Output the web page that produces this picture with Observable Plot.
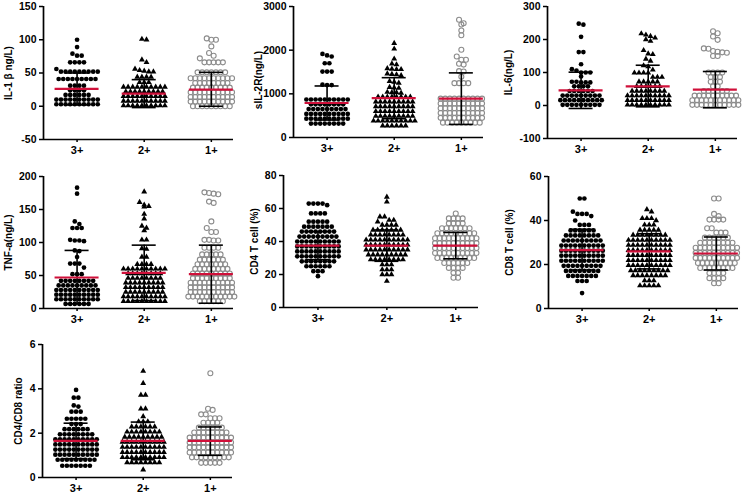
<!DOCTYPE html>
<html><head><meta charset="utf-8">
<script src="https://cdn.jsdelivr.net/npm/d3@7"></script>
<script src="https://cdn.jsdelivr.net/npm/@observablehq/plot@0.6"></script>
<style>
body{margin:0;background:#fff;}
#wrap{position:relative;width:750px;height:495px;overflow:hidden;background:#fff;}
.panel{position:absolute;}
.panel svg{overflow:visible;}
.panel svg text{font-weight:bold;}
</style></head><body><div id="wrap"></div>
<script>
// ---- categories ----
const groups = ["3+", "2+", "1+"];

// ---- IL-1β ----
const il1Ticks = [-50, 0, 50, 100, 150];
const il1_3 = [100,89,79,76,76,66,66,66,66,56,52,52,52,52,52,52,52,52,52,41,41,41,41,41,41,41,41,41,31,31,31,31,24,24,24,24,17,17,17,17,17,17,10,10,10,10,10,10,10,10,10,10,3,3,3,3,3,3,3,3,3,3];
const il1_2 = [101,100,70,66,56,54,53,52,52,44,44,44,44,36,36,36,29,29,29,29,29,29,29,29,29,29,22,22,22,22,22,22,22,22,22,15,15,15,15,15,15,15,15,15,15,8,8,8,8,8,8,8,8,8,8,1,1,1,1,1,1,1,1,1,1];
const il1_1 = [102,100,100,90,80,76,72,66,66,66,66,66,51,51,51,51,51,51,51,42,42,42,42,42,42,42,42,42,42,35,35,35,35,35,35,35,35,28,28,28,28,28,28,28,28,28,21,21,21,21,21,21,21,21,21,21,14,14,14,14,14,14,14,14,14,14,7,7,7,7,7,7,7,7,7,7,0,0,0,0,0,0,0,0,0];
const il1Mean = [26, 19, 25];
const il1Lo = [2, -2, 0];
const il1Hi = [50, 40, 51];

// ---- sIL-2R ----
const silTicks = [0, 1000, 2000, 3000];
const sil_3 = [1915,1880,1855,1700,1700,1510,1510,1510,1210,1200,1200,870,870,870,870,870,870,870,870,870,870,760,760,760,760,760,760,760,760,650,650,650,650,650,650,650,650,650,540,540,540,540,540,540,540,540,540,540,430,430,430,430,430,430,430,430,430,430,320,320,320,320,320,320,320,320];
const sil_2 = [2160,2030,1800,1690,1670,1580,1570,1560,1560,1460,1450,1440,1420,1290,1270,1250,1150,1140,1130,1040,1030,1030,1020,930,930,930,930,930,930,930,930,820,820,820,820,820,820,820,820,820,710,710,710,710,710,710,710,710,710,600,600,600,600,600,600,600,600,600,490,490,490,490,490,490,490,490,490,380,380,380,380,380,380,380,380,380,380,270,270,270,270,270,270];
const sil_1 = [2695,2617,2588,2450,2343,2008,1855,1780,1780,1690,1670,1520,1510,1390,1245,1245,1245,1245,890,890,890,890,890,890,890,890,890,890,780,780,780,780,780,780,780,780,780,780,670,670,670,670,670,670,670,670,670,670,560,560,560,560,560,560,560,560,560,560,450,450,450,450,450,450,450,450,450,450,340,340,340,340,340,340,340,340,340];
const silMean = [790, 900, 890];
const silLo = [400, 430, 300];
const silHi = [1180, 1370, 1480];

// ---- IL-6 ----
const il6Ticks = [-100, 0, 100, 200, 300];
const il6_3 = [248,245,208,162,162,125,110,106,100,100,100,88,72,72,70,70,70,58,58,58,58,44,44,44,44,44,44,30,30,30,30,30,30,30,30,30,16,16,16,16,16,16,16,16,16,16,2,2,2,2,2,2,2,2,2];
const il6_2 = [218,214,210,205,200,195,167,157,155,141,135,121,118,108,99,99,99,99,86,86,86,72,72,72,72,72,58,58,58,58,58,58,44,44,44,44,44,44,44,44,30,30,30,30,30,30,30,30,30,30,16,16,16,16,16,16,16,16,16,16,2,2,2,2,2,2,2,2,2,2];
const il6_1 = [225,219,209,199,173,172,165,163,161,160,150,150,100,100,100,100,86,86,86,72,72,72,58,58,44,44,44,44,44,44,30,30,30,30,30,30,30,30,30,30,16,16,16,16,16,16,16,16,16,16,16,2,2,2,2,2,2,2,2,2,2,2];
const il6Mean = [46, 58, 48];
const il6Lo = [-9, -4, -7];
const il6Hi = [101, 122, 103];

// ---- TNF-a ----
const tnfTicks = [0, 50, 100, 150, 200];
const tnf_3 = [183,174,132,128,122,122,122,104,103,103,102,88,87,78,68,68,68,62,52,52,52,42,42,42,42,42,42,42,42,35,35,35,35,35,35,35,35,35,28,28,28,28,28,28,28,28,28,28,21,21,21,21,21,21,21,21,21,21,14,14,14,14,14,14,14,14,14,14,7,7,7,7,7,7];
const tnf_2 = [177,161,157,155,154,143,136,125,122,118,104,104,91,90,78,78,67,67,67,67,60,60,60,60,60,60,60,60,60,60,53,53,53,53,53,53,53,53,46,46,46,46,46,46,46,46,39,39,39,39,39,39,39,39,39,32,32,32,32,32,32,32,32,32,25,25,25,25,25,25,25,25,25,18,18,18,18,18,18,18,18,18,18,11,11,11,11,11,11,11,11,11,11];
const tnf_1 = [176,175,174,173,162,160,132,122,116,116,104,104,103,103,92,92,92,92,82,82,82,82,82,74,74,74,74,74,74,67,67,67,67,67,67,67,60,60,60,60,60,60,60,60,53,53,53,53,53,53,53,53,53,46,46,46,46,46,46,46,46,46,39,39,39,39,39,39,39,39,39,39,32,32,32,32,32,32,32,32,32,32,25,25,25,25,25,25,25,25,25,25,18,18,18,18,18,18,18,18,18,18,18,11,11,11,11,11,11];
const tnfMean = [47, 54, 52];
const tnfLo = [7, 12, 8];
const tnfHi = [88, 96, 96];

// ---- CD4 T cell ----
const cd4Ticks = [0, 20, 40, 60, 80];
const cd4_3 = [63,63,63,63,62,57,57,57,57,52,52,52,52,52,49,49,49,49,49,49,49,46,46,46,46,46,46,46,46,43,43,43,43,43,43,43,43,43,40,40,40,40,40,40,40,40,40,40,37,37,37,37,37,37,37,37,37,37,34,34,34,34,34,34,34,34,34,34,31,31,31,31,31,31,31,31,31,31,28,28,28,28,28,28,28,28,25,25,25,25,25,25,22,22,22,19];
const cd4_2 = [67,64,55,55,53,53,52,50,50,50,50,47,47,47,47,47,47,47,44,44,44,44,44,44,44,44,41,41,41,41,41,41,41,41,41,41,38,38,38,38,38,38,38,38,38,38,35,35,35,35,35,35,35,35,35,35,32,32,32,32,32,32,32,32,32,29,29,29,29,29,29,29,29,26,26,26,23,23,23,20,20,20,16];
const cd4_1 = [57,54,54,54,54,51,51,51,51,48,48,48,48,48,48,48,45,45,45,45,45,45,45,45,45,42,42,42,42,42,42,42,42,42,42,39,39,39,39,39,39,39,39,39,39,36,36,36,36,36,36,36,36,36,36,33,33,33,33,33,33,33,33,33,33,30,30,30,30,30,30,30,30,30,27,27,27,27,27,27,24,24,24,24,21,21,18,18];
const cd4Mean = [37.5, 37.5, 37.5];
const cd4Lo = [29, 28, 29.5];
const cd4Hi = [46, 47, 45.5];

// ---- CD8 T cell ----
const cd8Ticks = [0, 20, 40, 60];
const cd8_3 = [50,50,44,43,43,43,42,40,38,38,38,35.5,35.5,35.5,35.5,35.5,35.5,33.2,33.2,33.2,33.2,33.2,33.2,33.2,33.2,30.9,30.9,30.9,30.9,30.9,30.9,30.9,30.9,30.9,28.6,28.6,28.6,28.6,28.6,28.6,28.6,28.6,28.6,28.6,26.3,26.3,26.3,26.3,26.3,26.3,26.3,26.3,26.3,26.3,24,24,24,24,24,24,24,24,24,24,21.7,21.7,21.7,21.7,21.7,21.7,21.7,21.7,21.7,21.7,19.4,19.4,19.4,19.4,19.4,19.4,19.4,19.4,19.4,17.1,17.1,17.1,17.1,17.1,17.1,17.1,17.1,14.8,14.8,14.8,14.8,14.8,14.8,14.8,12.5,12.5,12.5,7];
const cd8_2 = [45,44,41,41,41,40,38,38,38,35.7,35.7,35.7,35.7,35.7,33.4,33.4,33.4,33.4,33.4,33.4,33.4,33.4,31.1,31.1,31.1,31.1,31.1,31.1,31.1,31.1,31.1,31.1,28.8,28.8,28.8,28.8,28.8,28.8,28.8,28.8,28.8,28.8,26.5,26.5,26.5,26.5,26.5,26.5,26.5,26.5,26.5,26.5,24.2,24.2,24.2,24.2,24.2,24.2,24.2,24.2,24.2,24.2,21.9,21.9,21.9,21.9,21.9,21.9,21.9,21.9,21.9,21.9,19.6,19.6,19.6,19.6,19.6,19.6,19.6,19.6,19.6,19.6,17.3,17.3,17.3,17.3,17.3,17.3,17.3,17.3,17.3,15,15,15,15,15,15,15,15,12.7,12.7,12.7,10.4,10.4,10.4,10.4,10.4];
const cd8_1 = [50,50,43,42,40.4,40.4,40.4,40.4,36.5,36.5,34.5,34.5,34.5,32.2,32.2,32.2,32.2,32.2,32.2,29.9,29.9,29.9,29.9,29.9,29.9,29.9,29.9,27.6,27.6,27.6,27.6,27.6,27.6,27.6,27.6,27.6,27.6,25.3,25.3,25.3,25.3,25.3,25.3,25.3,25.3,25.3,25.3,23,23,23,23,23,23,23,23,23,23,20.7,20.7,20.7,20.7,20.7,20.7,20.7,20.7,20.7,18.4,18.4,18.4,18.4,18.4,18.4,18.4,18.4,16.1,16.1,16.1,16.1,13.8,13.8,13.8,13.8,11.5,11.5];
const cd8Mean = [26.5, 26, 25];
const cd8Lo = [17.5, 18, 17.5];
const cd8Hi = [36, 34, 32.5];

// ---- CD4/CD8 ratio ----
const ratioTicks = [0, 2, 4, 6];
const ratio_3 = [3.95,3.6,3.6,3.25,3.2,2.97,2.97,2.97,2.65,2.65,2.65,2.65,2.65,2.41,2.41,2.41,2.18,2.18,2.18,2.18,2.18,2.18,1.95,1.95,1.95,1.95,1.95,1.95,1.95,1.95,1.72,1.72,1.72,1.72,1.72,1.72,1.72,1.72,1.72,1.72,1.49,1.49,1.49,1.49,1.49,1.49,1.49,1.49,1.49,1.49,1.26,1.26,1.26,1.26,1.26,1.26,1.26,1.26,1.26,1.26,1.03,1.03,1.03,1.03,1.03,1.03,1.03,1.03,1.03,1.03,0.8,0.8,0.8,0.8,0.8,0.8,0.8,0.8,0.8,0.53,0.53,0.53,0.53,0.53,0.53,0.53];
const ratio_2 = [4.8,4.25,3.72,3.72,3.1,3.1,2.75,2.52,2.52,2.52,2.29,2.29,2.29,2.29,2.29,2.29,2.06,2.06,2.06,2.06,2.06,2.06,2.06,2.06,1.83,1.83,1.83,1.83,1.83,1.83,1.83,1.83,1.83,1.6,1.6,1.6,1.6,1.6,1.6,1.6,1.6,1.6,1.6,1.37,1.37,1.37,1.37,1.37,1.37,1.37,1.37,1.37,1.37,1.14,1.14,1.14,1.14,1.14,1.14,1.14,1.14,1.14,1.14,0.91,0.91,0.91,0.91,0.91,0.91,0.91,0.91,0.91,0.91,0.68,0.68,0.68,0.68,0.68,0.68,0.68,0.68,0.35];
const ratio_1 = [4.7,3.1,3.05,2.85,2.85,2.67,2.67,2.67,2.47,2.47,2.47,2.47,2.25,2.25,2.25,2.25,2.25,2.25,2.03,2.03,2.03,2.03,2.03,2.03,2.03,2.03,1.8,1.8,1.8,1.8,1.8,1.8,1.8,1.8,1.8,1.8,1.58,1.58,1.58,1.58,1.58,1.58,1.58,1.58,1.58,1.58,1.36,1.36,1.36,1.36,1.36,1.36,1.36,1.36,1.36,1.36,1.13,1.13,1.13,1.13,1.13,1.13,1.13,1.13,1.13,1.13,0.91,0.91,0.91,0.91,0.91,0.91,0.91,0.91,0.91,0.66,0.66,0.66,0.66,0.66];
const ratioMean = [1.65, 1.65, 1.65];
const ratioLo = [0.85, 0.8, 1.0];
const ratioHi = [2.45, 2.5, 2.28];

// ---- layout & style ----
const FONT = '"Liberation Sans", Arial, Helvetica, sans-serif';
const X_DOMAIN = [0.5, 3.33];
const ROW_H = 4.5;      // px, vertical extent of one swarm row
const DOT_GAP = 4.6;    // px, horizontal spacing of dots in a row
const RED = "#d0103a";
const GREY = "#8c8c8c";

const panels = [
  {label:"IL-1 β ng/L)", data:[il1_3, il1_2, il1_1], mean:il1Mean, lo:il1Lo, hi:il1Hi, ticks:il1Ticks, left:0, top:0, h:160, ml:43, pw:190, mt:6, mb:21, ldx:-35, ldy:0},
  {label:"sIL-2R(ng/L)", data:[sil_3, sil_2, sil_1], mean:silMean, lo:silLo, hi:silHi, ticks:silTicks, left:250, top:0, h:160, ml:43, pw:190, mt:6, mb:23, ldx:-35, ldy:8},
  {label:"IL-6(ng/L)", data:[il6_3, il6_2, il6_1], mean:il6Mean, lo:il6Lo, hi:il6Hi, ticks:il6Ticks, left:500, top:0, h:160, ml:47, pw:190, mt:6, mb:22, ldx:-39, ldy:0},
  {label:"TNF-a(ng/L)", data:[tnf_3, tnf_2, tnf_1], mean:tnfMean, lo:tnfLo, hi:tnfHi, ticks:tnfTicks, left:0, top:165, h:165, ml:43, pw:190, mt:11, mb:22, ldx:-35, ldy:0},
  {label:"CD4 T cell (%)", data:[cd4_3, cd4_2, cd4_1], mean:cd4Mean, lo:cd4Lo, hi:cd4Hi, ticks:cd4Ticks, left:250, top:165, h:165, ml:33, pw:195, mt:10, mb:23, ldx:-29, ldy:0},
  {label:"CD8 T cell (%)", data:[cd8_3, cd8_2, cd8_1], mean:cd8Mean, lo:cd8Lo, hi:cd8Hi, ticks:cd8Ticks, left:500, top:165, h:165, ml:48, pw:190, mt:11, mb:22, ldx:-39, ldy:0},
  {label:"CD4/CD8 ratio", data:[ratio_3, ratio_2, ratio_1], mean:ratioMean, lo:ratioLo, hi:ratioHi, ticks:ratioTicks, left:0, top:330, h:165, ml:42, pw:190, mt:14, mb:18, ldx:-24, ldy:0}
];

const wrap = document.getElementById("wrap");

for (const p of panels) {
  const W = 250;
  const mr = W - p.ml - p.pw;
  const yDomain = [p.ticks[0], p.ticks[p.ticks.length - 1]];
  // same mapping that Plot's y scale will use, only for arranging the swarm
  const yPix = d3.scaleLinear(yDomain, [p.h - p.mb, p.mt]);
  const pxPerX = p.pw / (X_DOMAIN[1] - X_DOMAIN[0]);
  const pts = [[], [], []];
  p.data.forEach((vals, g) => {
    const sorted = vals.map(v => ({v, py: yPix(v)})).sort((a, b) => a.py - b.py);
    const rows = [];
    let cur = null;
    for (const s of sorted) {
      if (!cur || s.py - cur.start >= ROW_H) { cur = {start: s.py, items: []}; rows.push(cur); }
      cur.items.push(s);
    }
    for (const r of rows) {
      const n = r.items.length;
      r.items.forEach((s, i) => pts[g].push({group: groups[g], value: s.v, x: g + 1 + (i - (n - 1) / 2) * DOT_GAP / pxPerX}));
    }
  });
  const stats = groups.map((name, g) => ({name, c: g + 1, mean: p.mean[g], lo: p.lo[g], hi: p.hi[g]}));
  const CAP = 12 / pxPerX, MW = 22 / pxPerX;

  const chart = Plot.plot({
    width: W, height: p.h,
    marginLeft: p.ml, marginRight: mr, marginTop: p.mt, marginBottom: p.mb,
    x: {domain: X_DOMAIN, axis: null},
    y: {domain: yDomain, axis: null},
    style: {fontFamily: FONT, fontWeight: "bold", background: "white", overflow: "visible", color: "black"},
    marks: [
      Plot.dot(pts[2], {x: "x", y: "value", r: 2.5, stroke: GREY, strokeWidth: 1.1, fill: "none"}),
      Plot.dot(pts[1], {x: "x", y: "value", symbol: "triangle", r: 2.2, fill: "black", stroke: "none"}),
      Plot.dot(pts[0], {x: "x", y: "value", r: 2.35, fill: "black", stroke: "none"}),
      Plot.ruleX(stats, {x: "c", y1: "lo", y2: "hi", stroke: "black", strokeWidth: 1.6}),
      Plot.ruleY(stats, {y: "hi", x1: d => d.c - CAP, x2: d => d.c + CAP, stroke: "black", strokeWidth: 1.6}),
      Plot.ruleY(stats, {y: "lo", x1: d => d.c - CAP, x2: d => d.c + CAP, stroke: "black", strokeWidth: 1.6}),
      Plot.ruleY(stats, {y: "mean", x1: d => d.c - MW, x2: d => d.c + MW, stroke: RED, strokeWidth: 2.2}),
      Plot.ruleX([X_DOMAIN[0]], {stroke: "black", strokeWidth: 1.7}),
      Plot.ruleY([yDomain[0]], {stroke: "black", strokeWidth: 1.7}),
      Plot.axisY({ticks: p.ticks, tickFormat: d => String(d), tickSize: 4, tickPadding: 3, fontSize: 10.5, fontWeight: "bold", strokeWidth: 1.5, label: null}),
      Plot.axisX({ticks: [1, 2, 3], tickFormat: d => groups[d - 1], tickSize: 3, tickPadding: 4, fontSize: 11, fontWeight: "bold", strokeWidth: 1.5, label: null}),
      Plot.text([p.label], {text: d => d, frameAnchor: "left", rotate: -90, dx: p.ldx, dy: p.ldy, textAnchor: "middle", fontSize: 10, fontWeight: "bold", fill: "black"})
    ]
  });
  const div = document.createElement("div");
  div.className = "panel";
  div.style.left = p.left + "px";
  div.style.top = p.top + "px";
  div.appendChild(chart);
  wrap.appendChild(div);
}
</script>
</body></html>
